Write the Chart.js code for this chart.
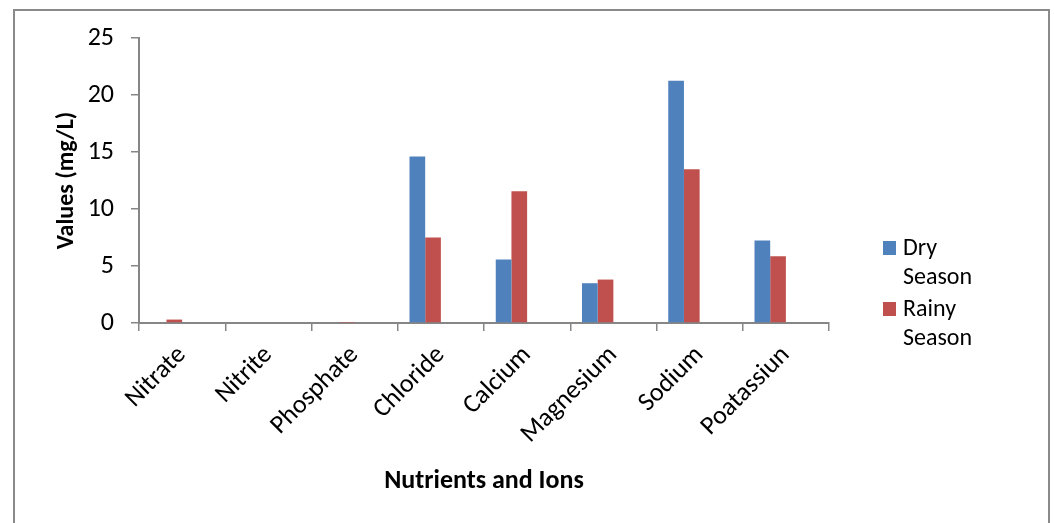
<!DOCTYPE html>
<html>
<head>
<meta charset="utf-8">
<script src="https://cdn.jsdelivr.net/npm/chart.js@4/dist/chart.umd.min.js"></script>
<style>
  html, body { margin: 0; padding: 0; background: #fff; }
  #wrap { width: 1054px; height: 523px; }
</style>
</head>
<body>
<div id="wrap"><canvas id="nutrientChart" width="1054" height="523"></canvas></div>
<script>
// Chart data
const categories = ["Nitrate", "Nitrite", "Phosphate", "Chloride", "Calcium", "Magnesium", "Sodium", "Poatassiun"];
const drySeason = [0, 0, 0, 14.6, 5.57, 3.49, 21.24, 7.24];
const rainySeason = [0.3, 0, 0.03, 7.51, 11.56, 3.81, 13.49, 5.86];
const emptySeries = [null, null, null, null, null, null, null, null];
const yTicks = [0, 5, 10, 15, 20, 25];

const FONT = "Carlito, Lato, sans-serif";
const AXIS_GREY = "#868686";

// Outer frame of the chart object
const framePlugin = {
  id: 'frame',
  beforeDraw(chart) {
    const ctx = chart.ctx;
    ctx.save();
    ctx.strokeStyle = "#8a8a8a";
    ctx.lineWidth = 2;
    ctx.strokeRect(14, 10, 1035, 530);
    ctx.restore();
  }
};

// Legend with wrapped labels, drawn at the right
const legendPlugin = {
  id: 'wrapLegend',
  afterDraw(chart) {
    const ctx = chart.ctx;
    ctx.save();
    ctx.font = "24px " + FONT;
    ctx.textBaseline = "alphabetic";
    let y = 255;
    chart.data.datasets.forEach(ds => {
      if (!ds.label) return;
      ctx.fillStyle = ds.backgroundColor;
      ctx.fillRect(883, y - 14, 13, 14);
      ctx.fillStyle = "#000";
      ds.label.split(" ").forEach((word, i) => {
        ctx.fillText(word, 903, y + i * 29);
      });
      y += 61;
    });
    ctx.restore();
  }
};

new Chart(document.getElementById('nutrientChart').getContext('2d'), {
  type: 'bar',
  data: {
    labels: categories,
    datasets: [
      { label: "Dry Season", data: drySeason, backgroundColor: "#4F81BD" },
      { label: "Rainy Season", data: rainySeason, backgroundColor: "#C0504D" },
      { label: "", data: emptySeries, backgroundColor: "#9BBB59" },
      { label: "", data: emptySeries, backgroundColor: "#8064A2" }
    ]
  },
  options: {
    responsive: false,
    animation: false,
    events: [],
    categoryPercentage: 4 / 5.5,
    barPercentage: 1,
    layout: { padding: { left: 14, right: 225, top: 38, bottom: 0 } },
    plugins: {
      legend: { display: false },
      tooltip: { enabled: false }
    },
    scales: {
      x: {
        grid: {
          offset: true,
          drawOnChartArea: false,
          color: AXIS_GREY,
          lineWidth: 1.5,
          tickLength: 8
        },
        border: { color: AXIS_GREY, width: 2 },
        ticks: {
          color: "#000",
          font: { family: FONT, size: 26 },
          minRotation: 45,
          maxRotation: 45,
          padding: 9,
          autoSkip: false
        },
        title: {
          display: true,
          text: "Nutrients and Ions",
          color: "#000",
          font: { family: FONT, size: 26, weight: 'bold' },
          padding: { top: 0, bottom: 26 }
        },
        afterFit(scale) { scale.height = 200; }
      },
      y: {
        min: 0,
        max: 25,
        afterBuildTicks(scale) { scale.ticks = yTicks.map(v => ({ value: v })); },
        grid: {
          drawOnChartArea: false,
          color: AXIS_GREY,
          lineWidth: 1.5,
          tickLength: 8
        },
        border: { color: AXIS_GREY, width: 2 },
        ticks: {
          color: "#000",
          font: { family: FONT, size: 26 },
          padding: 17
        },
        title: {
          display: true,
          text: "Values (mg/L)",
          color: "#000",
          font: { family: FONT, size: 24, weight: 'bold' },
          padding: { top: 39, bottom: 0 }
        },
        afterFit(scale) { scale.width = 125; }
      }
    }
  },
  plugins: [framePlugin, legendPlugin]
});
</script>
</body>
</html>
